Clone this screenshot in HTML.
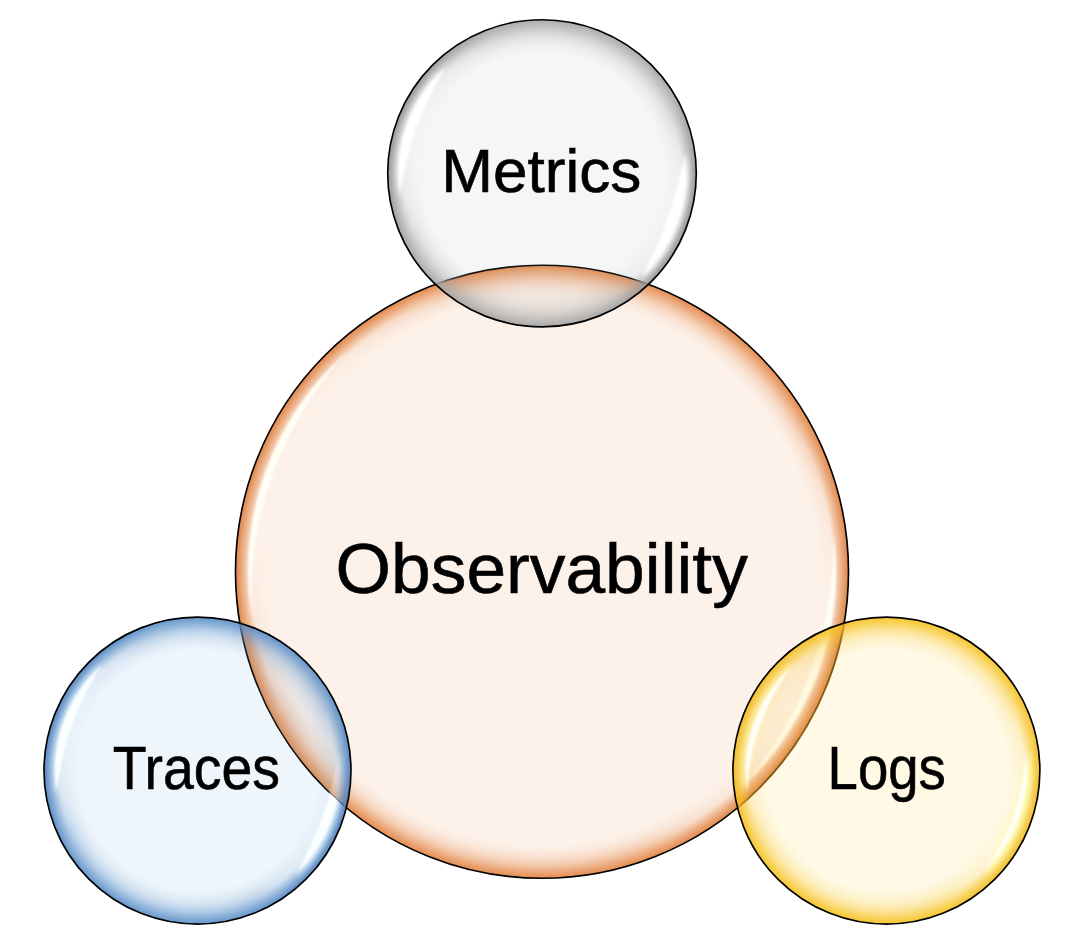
<!DOCTYPE html>
<html lang="en"><head><meta charset="utf-8"><title>Observability</title>
<style>
html,body{margin:0;padding:0;background:#fff;}
body{width:1082px;height:942px;overflow:hidden;}
svg{display:block;}
text{font-family:"Liberation Sans",sans-serif;fill:#000;stroke:#000;stroke-width:0.6px;text-anchor:middle;}
</style></head><body>
<svg width="1082" height="942" viewBox="0 0 1082 942">
<defs>
<filter id="b1" x="-20%" y="-20%" width="140%" height="140%"><feGaussianBlur stdDeviation="0.85"/></filter>
<filter id="b2" x="-20%" y="-20%" width="140%" height="140%"><feGaussianBlur stdDeviation="2.2"/></filter>
<clipPath id="cl-obs"><circle cx="542.00" cy="571.75" r="306.50"/></clipPath>
<mask id="mo-obs" maskUnits="userSpaceOnUse" x="0" y="0" width="1082" height="942"><rect x="0" y="0" width="1082" height="942" fill="#fff"/><circle cx="542.00" cy="571.75" r="306.50" fill="#000"/></mask>
<radialGradient id="gn-obs" gradientUnits="userSpaceOnUse" cx="542.00" cy="571.75" r="307.32"><stop offset="0" stop-color="rgb(222,113,38)" stop-opacity="0"/><stop offset="0.9469" stop-color="rgb(222,113,38)" stop-opacity="0.000"/><stop offset="0.9534" stop-color="rgb(222,113,38)" stop-opacity="0.101"/><stop offset="0.9599" stop-color="rgb(222,113,38)" stop-opacity="0.257"/><stop offset="0.9680" stop-color="rgb(222,113,38)" stop-opacity="0.390"/><stop offset="0.9778" stop-color="rgb(222,113,38)" stop-opacity="0.530"/><stop offset="0.9876" stop-color="rgb(222,113,38)" stop-opacity="0.663"/><stop offset="0.9973" stop-color="rgb(222,113,38)" stop-opacity="0.780"/><stop offset="1" stop-color="rgb(222,113,38)" stop-opacity="0.780"/></radialGradient>
<radialGradient id="gw-obs" gradientUnits="userSpaceOnUse" cx="542.00" cy="571.75" r="307.32"><stop offset="0" stop-color="rgb(222,113,38)" stop-opacity="0"/><stop offset="0.8899" stop-color="rgb(222,113,38)" stop-opacity="0.000"/><stop offset="0.9030" stop-color="rgb(222,113,38)" stop-opacity="0.031"/><stop offset="0.9192" stop-color="rgb(222,113,38)" stop-opacity="0.086"/><stop offset="0.9355" stop-color="rgb(222,113,38)" stop-opacity="0.172"/><stop offset="0.9469" stop-color="rgb(222,113,38)" stop-opacity="0.254"/><stop offset="0.9534" stop-color="rgb(222,113,38)" stop-opacity="0.234"/><stop offset="0.9599" stop-color="rgb(222,113,38)" stop-opacity="0.161"/><stop offset="0.9680" stop-color="rgb(222,113,38)" stop-opacity="0.128"/><stop offset="0.9778" stop-color="rgb(222,113,38)" stop-opacity="0.100"/><stop offset="0.9876" stop-color="rgb(222,113,38)" stop-opacity="0.069"/><stop offset="0.9973" stop-color="rgb(222,113,38)" stop-opacity="0.000"/><stop offset="1" stop-color="rgb(222,113,38)" stop-opacity="0.000"/></radialGradient>
<radialGradient id="gb-obs" gradientUnits="userSpaceOnUse" cx="542.00" cy="571.75" r="307.32"><stop offset="0.9631" stop-color="rgb(170,70,10)" stop-opacity="0"/><stop offset="0.9941" stop-color="rgb(170,70,10)" stop-opacity="0.080"/><stop offset="1" stop-color="rgb(170,70,10)" stop-opacity="0.080"/></radialGradient>
<linearGradient id="lm-obs" gradientUnits="userSpaceOnUse" x1="252.66" y1="468.15" x2="831.34" y2="675.35"><stop offset="0" stop-color="#000"/><stop offset="0.035" stop-color="#000"/><stop offset="0.10" stop-color="#666"/><stop offset="0.19" stop-color="#fff"/><stop offset="0.81" stop-color="#fff"/><stop offset="0.90" stop-color="#666"/><stop offset="0.965" stop-color="#000"/><stop offset="1" stop-color="#000"/></linearGradient>
<linearGradient id="li-obs" gradientUnits="userSpaceOnUse" x1="252.66" y1="468.15" x2="831.34" y2="675.35"><stop offset="0" stop-color="#fff"/><stop offset="0.035" stop-color="#fff"/><stop offset="0.10" stop-color="#999"/><stop offset="0.19" stop-color="#000"/><stop offset="0.81" stop-color="#000"/><stop offset="0.90" stop-color="#999"/><stop offset="0.965" stop-color="#fff"/><stop offset="1" stop-color="#fff"/></linearGradient>
<mask id="m-obs" maskUnits="userSpaceOnUse" x="232.7" y="262.4" width="618.6" height="618.6"><rect x="232.7" y="262.4" width="618.6" height="618.6" fill="url(#lm-obs)"/></mask>
<mask id="mi-obs" maskUnits="userSpaceOnUse" x="232.7" y="262.4" width="618.6" height="618.6"><rect x="232.7" y="262.4" width="618.6" height="618.6" fill="url(#li-obs)"/></mask>
<radialGradient id="gn-tra" gradientUnits="userSpaceOnUse" cx="197.50" cy="770.60" r="154.32"><stop offset="0" stop-color="rgb(88,141,199)" stop-opacity="0"/><stop offset="0.8942" stop-color="rgb(88,141,199)" stop-opacity="0.000"/><stop offset="0.9072" stop-color="rgb(88,141,199)" stop-opacity="0.117"/><stop offset="0.9201" stop-color="rgb(88,141,199)" stop-opacity="0.297"/><stop offset="0.9363" stop-color="rgb(88,141,199)" stop-opacity="0.450"/><stop offset="0.9558" stop-color="rgb(88,141,199)" stop-opacity="0.612"/><stop offset="0.9752" stop-color="rgb(88,141,199)" stop-opacity="0.765"/><stop offset="0.9947" stop-color="rgb(88,141,199)" stop-opacity="0.900"/><stop offset="1" stop-color="rgb(88,141,199)" stop-opacity="0.900"/></radialGradient>
<radialGradient id="gw-tra" gradientUnits="userSpaceOnUse" cx="197.50" cy="770.60" r="154.32"><stop offset="0" stop-color="rgb(88,141,199)" stop-opacity="0"/><stop offset="0.7808" stop-color="rgb(88,141,199)" stop-opacity="0.000"/><stop offset="0.8067" stop-color="rgb(88,141,199)" stop-opacity="0.036"/><stop offset="0.8391" stop-color="rgb(88,141,199)" stop-opacity="0.099"/><stop offset="0.8715" stop-color="rgb(88,141,199)" stop-opacity="0.198"/><stop offset="0.8942" stop-color="rgb(88,141,199)" stop-opacity="0.292"/><stop offset="0.9072" stop-color="rgb(88,141,199)" stop-opacity="0.275"/><stop offset="0.9201" stop-color="rgb(88,141,199)" stop-opacity="0.196"/><stop offset="0.9363" stop-color="rgb(88,141,199)" stop-opacity="0.164"/><stop offset="0.9558" stop-color="rgb(88,141,199)" stop-opacity="0.139"/><stop offset="0.9752" stop-color="rgb(88,141,199)" stop-opacity="0.115"/><stop offset="0.9947" stop-color="rgb(88,141,199)" stop-opacity="0.000"/><stop offset="1" stop-color="rgb(88,141,199)" stop-opacity="0.000"/></radialGradient>
<radialGradient id="gb-tra" gradientUnits="userSpaceOnUse" cx="197.50" cy="770.60" r="154.32"><stop offset="0.9266" stop-color="rgb(30,80,150)" stop-opacity="0"/><stop offset="0.9882" stop-color="rgb(30,80,150)" stop-opacity="0.180"/><stop offset="1" stop-color="rgb(30,80,150)" stop-opacity="0.180"/></radialGradient>
<linearGradient id="lm-tra" gradientUnits="userSpaceOnUse" x1="52.21" y1="718.58" x2="342.79" y2="822.62"><stop offset="0" stop-color="#000"/><stop offset="0.035" stop-color="#000"/><stop offset="0.10" stop-color="#666"/><stop offset="0.19" stop-color="#fff"/><stop offset="0.81" stop-color="#fff"/><stop offset="0.90" stop-color="#666"/><stop offset="0.965" stop-color="#000"/><stop offset="1" stop-color="#000"/></linearGradient>
<linearGradient id="li-tra" gradientUnits="userSpaceOnUse" x1="52.21" y1="718.58" x2="342.79" y2="822.62"><stop offset="0" stop-color="#fff"/><stop offset="0.035" stop-color="#fff"/><stop offset="0.10" stop-color="#999"/><stop offset="0.19" stop-color="#000"/><stop offset="0.81" stop-color="#000"/><stop offset="0.90" stop-color="#999"/><stop offset="0.965" stop-color="#fff"/><stop offset="1" stop-color="#fff"/></linearGradient>
<mask id="m-tra" maskUnits="userSpaceOnUse" x="41.2" y="614.3" width="312.6" height="312.6"><rect x="41.2" y="614.3" width="312.6" height="312.6" fill="url(#lm-tra)"/></mask>
<mask id="mi-tra" maskUnits="userSpaceOnUse" x="41.2" y="614.3" width="312.6" height="312.6"><rect x="41.2" y="614.3" width="312.6" height="312.6" fill="url(#li-tra)"/></mask>
<radialGradient id="gn-met" gradientUnits="userSpaceOnUse" cx="542.00" cy="173.30" r="154.42"><stop offset="0" stop-color="rgb(168,168,168)" stop-opacity="0"/><stop offset="0.8943" stop-color="rgb(168,168,168)" stop-opacity="0.000"/><stop offset="0.9072" stop-color="rgb(168,168,168)" stop-opacity="0.123"/><stop offset="0.9202" stop-color="rgb(168,168,168)" stop-opacity="0.314"/><stop offset="0.9364" stop-color="rgb(168,168,168)" stop-opacity="0.475"/><stop offset="0.9558" stop-color="rgb(168,168,168)" stop-opacity="0.646"/><stop offset="0.9752" stop-color="rgb(168,168,168)" stop-opacity="0.807"/><stop offset="0.9947" stop-color="rgb(168,168,168)" stop-opacity="0.950"/><stop offset="1" stop-color="rgb(168,168,168)" stop-opacity="0.950"/></radialGradient>
<radialGradient id="gw-met" gradientUnits="userSpaceOnUse" cx="542.00" cy="173.30" r="154.42"><stop offset="0" stop-color="rgb(168,168,168)" stop-opacity="0"/><stop offset="0.7810" stop-color="rgb(168,168,168)" stop-opacity="0.000"/><stop offset="0.8069" stop-color="rgb(168,168,168)" stop-opacity="0.038"/><stop offset="0.8392" stop-color="rgb(168,168,168)" stop-opacity="0.105"/><stop offset="0.8716" stop-color="rgb(168,168,168)" stop-opacity="0.209"/><stop offset="0.8943" stop-color="rgb(168,168,168)" stop-opacity="0.309"/><stop offset="0.9072" stop-color="rgb(168,168,168)" stop-opacity="0.293"/><stop offset="0.9202" stop-color="rgb(168,168,168)" stop-opacity="0.212"/><stop offset="0.9364" stop-color="rgb(168,168,168)" stop-opacity="0.181"/><stop offset="0.9558" stop-color="rgb(168,168,168)" stop-opacity="0.161"/><stop offset="0.9752" stop-color="rgb(168,168,168)" stop-opacity="0.148"/><stop offset="0.9947" stop-color="rgb(168,168,168)" stop-opacity="0.000"/><stop offset="1" stop-color="rgb(168,168,168)" stop-opacity="0.000"/></radialGradient>
<radialGradient id="gb-met" gradientUnits="userSpaceOnUse" cx="542.00" cy="173.30" r="154.42"><stop offset="0.9267" stop-color="rgb(70,70,70)" stop-opacity="0"/><stop offset="0.9882" stop-color="rgb(70,70,70)" stop-opacity="0.160"/><stop offset="1" stop-color="rgb(70,70,70)" stop-opacity="0.160"/></radialGradient>
<linearGradient id="lm-met" gradientUnits="userSpaceOnUse" x1="396.61" y1="121.24" x2="687.39" y2="225.36"><stop offset="0" stop-color="#000"/><stop offset="0.035" stop-color="#000"/><stop offset="0.10" stop-color="#666"/><stop offset="0.19" stop-color="#fff"/><stop offset="0.81" stop-color="#fff"/><stop offset="0.90" stop-color="#666"/><stop offset="0.965" stop-color="#000"/><stop offset="1" stop-color="#000"/></linearGradient>
<linearGradient id="li-met" gradientUnits="userSpaceOnUse" x1="396.61" y1="121.24" x2="687.39" y2="225.36"><stop offset="0" stop-color="#fff"/><stop offset="0.035" stop-color="#fff"/><stop offset="0.10" stop-color="#999"/><stop offset="0.19" stop-color="#000"/><stop offset="0.81" stop-color="#000"/><stop offset="0.90" stop-color="#999"/><stop offset="0.965" stop-color="#fff"/><stop offset="1" stop-color="#fff"/></linearGradient>
<mask id="m-met" maskUnits="userSpaceOnUse" x="385.6" y="16.9" width="312.8" height="312.8"><rect x="385.6" y="16.9" width="312.8" height="312.8" fill="url(#lm-met)"/></mask>
<mask id="mi-met" maskUnits="userSpaceOnUse" x="385.6" y="16.9" width="312.8" height="312.8"><rect x="385.6" y="16.9" width="312.8" height="312.8" fill="url(#li-met)"/></mask>
<radialGradient id="gn-log" gradientUnits="userSpaceOnUse" cx="886.40" cy="770.60" r="154.32"><stop offset="0" stop-color="rgb(246,193,27)" stop-opacity="0"/><stop offset="0.8942" stop-color="rgb(246,193,27)" stop-opacity="0.000"/><stop offset="0.9072" stop-color="rgb(246,193,27)" stop-opacity="0.117"/><stop offset="0.9201" stop-color="rgb(246,193,27)" stop-opacity="0.297"/><stop offset="0.9363" stop-color="rgb(246,193,27)" stop-opacity="0.450"/><stop offset="0.9558" stop-color="rgb(246,193,27)" stop-opacity="0.612"/><stop offset="0.9752" stop-color="rgb(246,193,27)" stop-opacity="0.765"/><stop offset="0.9947" stop-color="rgb(246,193,27)" stop-opacity="0.900"/><stop offset="1" stop-color="rgb(246,193,27)" stop-opacity="0.900"/></radialGradient>
<radialGradient id="gw-log" gradientUnits="userSpaceOnUse" cx="886.40" cy="770.60" r="154.32"><stop offset="0" stop-color="rgb(246,193,27)" stop-opacity="0"/><stop offset="0.7808" stop-color="rgb(246,193,27)" stop-opacity="0.000"/><stop offset="0.8067" stop-color="rgb(246,193,27)" stop-opacity="0.036"/><stop offset="0.8391" stop-color="rgb(246,193,27)" stop-opacity="0.099"/><stop offset="0.8715" stop-color="rgb(246,193,27)" stop-opacity="0.198"/><stop offset="0.8942" stop-color="rgb(246,193,27)" stop-opacity="0.292"/><stop offset="0.9072" stop-color="rgb(246,193,27)" stop-opacity="0.275"/><stop offset="0.9201" stop-color="rgb(246,193,27)" stop-opacity="0.196"/><stop offset="0.9363" stop-color="rgb(246,193,27)" stop-opacity="0.164"/><stop offset="0.9558" stop-color="rgb(246,193,27)" stop-opacity="0.139"/><stop offset="0.9752" stop-color="rgb(246,193,27)" stop-opacity="0.115"/><stop offset="0.9947" stop-color="rgb(246,193,27)" stop-opacity="0.000"/><stop offset="1" stop-color="rgb(246,193,27)" stop-opacity="0.000"/></radialGradient>
<radialGradient id="gb-log" gradientUnits="userSpaceOnUse" cx="886.40" cy="770.60" r="154.32"><stop offset="0.9266" stop-color="rgb(200,130,0)" stop-opacity="0"/><stop offset="0.9882" stop-color="rgb(200,130,0)" stop-opacity="0.080"/><stop offset="1" stop-color="rgb(200,130,0)" stop-opacity="0.080"/></radialGradient>
<linearGradient id="lm-log" gradientUnits="userSpaceOnUse" x1="741.11" y1="718.58" x2="1031.69" y2="822.62"><stop offset="0" stop-color="#000"/><stop offset="0.035" stop-color="#000"/><stop offset="0.10" stop-color="#666"/><stop offset="0.19" stop-color="#fff"/><stop offset="0.81" stop-color="#fff"/><stop offset="0.90" stop-color="#666"/><stop offset="0.965" stop-color="#000"/><stop offset="1" stop-color="#000"/></linearGradient>
<linearGradient id="li-log" gradientUnits="userSpaceOnUse" x1="741.11" y1="718.58" x2="1031.69" y2="822.62"><stop offset="0" stop-color="#fff"/><stop offset="0.035" stop-color="#fff"/><stop offset="0.10" stop-color="#999"/><stop offset="0.19" stop-color="#000"/><stop offset="0.81" stop-color="#000"/><stop offset="0.90" stop-color="#999"/><stop offset="0.965" stop-color="#fff"/><stop offset="1" stop-color="#fff"/></linearGradient>
<mask id="m-log" maskUnits="userSpaceOnUse" x="730.1" y="614.3" width="312.6" height="312.6"><rect x="730.1" y="614.3" width="312.6" height="312.6" fill="url(#lm-log)"/></mask>
<mask id="mi-log" maskUnits="userSpaceOnUse" x="730.1" y="614.3" width="312.6" height="312.6"><rect x="730.1" y="614.3" width="312.6" height="312.6" fill="url(#li-log)"/></mask>
<clipPath id="cl-log"><circle cx="886.40" cy="770.60" r="153.50"/></clipPath>
</defs>
<g class="c">
<g id="obs">
<circle cx="542.00" cy="571.75" r="306.50" fill="rgb(237,125,49)" fill-opacity="0.1"/>
<circle cx="542.00" cy="571.75" r="306.50" fill="url(#gw-obs)" mask="url(#m-obs)"/>
<circle cx="542.00" cy="571.75" r="306.50" fill="url(#gn-obs)"/>
<circle cx="542.00" cy="571.75" r="306.50" fill="url(#gb-obs)" mask="url(#mi-obs)"/>
<path d="M251.82 617.71 A293.80 293.80 0 0 1 345.41 353.41 A360.16 360.16 0 0 0 251.82 617.71 Z" fill="rgb(255,255,246)" filter="url(#b1)"/>
<path d="M833.29 533.40 A293.80 293.80 0 0 1 744.24 784.86 A370.78 370.78 0 0 0 833.29 533.40 Z" fill="rgb(255,255,246)" filter="url(#b1)"/>
<circle cx="542.00" cy="571.75" r="306.50" fill="none" stroke="#000" stroke-width="1.65"/>
</g>
<g id="tra">
<circle cx="197.50" cy="770.60" r="153.50" fill="rgb(91,155,213)" fill-opacity="0.1"/>
<circle cx="197.50" cy="770.60" r="153.50" fill="url(#gw-tra)" mask="url(#m-tra)"/>
<circle cx="197.50" cy="770.60" r="153.50" fill="url(#gn-tra)"/>
<circle cx="197.50" cy="770.60" r="153.50" fill="url(#gb-tra)" mask="url(#mi-tra)"/>
<path d="M53.72 795.95 A146.00 146.00 0 0 1 101.72 660.41 A376.49 376.49 0 0 0 53.72 795.95 Z" fill="rgb(215,240,255)" fill-opacity="0.44" filter="url(#b2)"/>
<path d="M56.56 792.92 A142.70 142.70 0 0 1 102.02 664.55 A301.37 301.37 0 0 0 56.56 792.92 Z" fill="rgb(252,255,255)" filter="url(#b1)"/>
<g mask="url(#mo-obs)"><path d="M341.90 749.02 A146.00 146.00 0 0 1 296.14 878.24 A464.08 464.08 0 0 0 341.90 749.02 Z" fill="rgb(215,240,255)" fill-opacity="0.80" filter="url(#b2)"/><path d="M338.98 751.97 A142.70 142.70 0 0 1 295.73 874.11 A349.70 349.70 0 0 0 338.98 751.97 Z" fill="rgb(252,255,255)" filter="url(#b1)"/></g>
<g clip-path="url(#cl-obs)" opacity="0.3"><path d="M341.90 749.02 A146.00 146.00 0 0 1 296.14 878.24 A464.08 464.08 0 0 0 341.90 749.02 Z" fill="rgb(215,240,255)" fill-opacity="0.80" filter="url(#b2)"/><path d="M338.98 751.97 A142.70 142.70 0 0 1 295.73 874.11 A349.70 349.70 0 0 0 338.98 751.97 Z" fill="rgb(252,255,255)" filter="url(#b1)"/></g>
<circle cx="197.50" cy="770.60" r="153.50" fill="none" stroke="#000" stroke-width="1.65"/>
</g>
<g id="met" transform="translate(542.00 0) scale(1.0046 1) translate(-542.00 0)">
<circle cx="542.00" cy="173.30" r="153.60" fill="rgb(165,165,165)" fill-opacity="0.1"/>
<circle cx="542.00" cy="173.30" r="153.60" fill="url(#gw-met)" mask="url(#m-met)"/>
<circle cx="542.00" cy="173.30" r="153.60" fill="url(#gn-met)"/>
<circle cx="542.00" cy="173.30" r="153.60" fill="url(#gb-met)" mask="url(#mi-met)"/>
<path d="M398.12 198.67 A146.10 146.10 0 0 1 446.15 63.04 A376.31 376.31 0 0 0 398.12 198.67 Z" fill="rgb(255,255,255)" fill-opacity="0.41" filter="url(#b2)"/>
<path d="M400.76 195.67 A143.00 143.00 0 0 1 446.31 67.03 A305.05 305.05 0 0 0 400.76 195.67 Z" fill="rgb(255,255,255)" filter="url(#b1)"/>
<path d="M686.50 151.71 A146.10 146.10 0 0 1 640.70 281.02 A463.66 463.66 0 0 0 686.50 151.71 Z" fill="rgb(255,255,255)" fill-opacity="0.75" filter="url(#b2)"/>
<path d="M683.78 154.63 A143.00 143.00 0 0 1 640.43 277.03 A355.03 355.03 0 0 0 683.78 154.63 Z" fill="rgb(255,255,255)" filter="url(#b1)"/>
<circle cx="542.00" cy="173.30" r="153.60" fill="none" stroke="#000" stroke-width="1.65"/>
</g>
<g id="log">
<circle cx="886.40" cy="770.60" r="153.50" fill="rgb(255,192,0)" fill-opacity="0.1"/>
<circle cx="886.40" cy="770.60" r="153.50" fill="url(#gw-log)" mask="url(#m-log)"/>
<circle cx="886.40" cy="770.60" r="153.50" fill="url(#gn-log)"/>
<circle cx="886.40" cy="770.60" r="153.50" fill="url(#gb-log)" mask="url(#mi-log)"/>
<circle cx="542.00" cy="571.75" r="306.50" fill="none" stroke="rgb(215,150,50)" stroke-opacity="0.5" stroke-width="2.45" clip-path="url(#cl-log)"/>
<path d="M743.60 795.78 A145.00 145.00 0 0 1 791.27 661.17 A378.35 378.35 0 0 0 743.60 795.78 Z" fill="rgb(255,252,165)" fill-opacity="0.47" filter="url(#b2)"/>
<path d="M747.43 792.61 A140.70 140.70 0 0 1 792.25 666.04 A209.47 209.47 0 0 0 747.43 792.61 Z" fill="rgb(255,255,250)" filter="url(#b1)"/>
<path d="M1029.81 749.17 A145.00 145.00 0 0 1 984.36 877.51 A468.44 468.44 0 0 0 1029.81 749.17 Z" fill="rgb(255,252,165)" fill-opacity="0.85" filter="url(#b2)"/>
<path d="M1025.90 752.23 A140.70 140.70 0 0 1 983.25 872.66 A223.20 223.20 0 0 0 1025.90 752.23 Z" fill="rgb(255,255,250)" filter="url(#b1)"/>
<circle cx="886.40" cy="770.60" r="153.50" fill="none" stroke="#000" stroke-width="1.65"/>
</g>
</g>
<g class="labels">
<text x="541.70" y="592.80" font-size="71.20" textLength="412.2" lengthAdjust="spacingAndGlyphs">Observability</text>
<text x="196.40" y="788.60" font-size="61.80" textLength="167.2" lengthAdjust="spacingAndGlyphs">Traces</text>
<text x="541.30" y="192.00" font-size="61.80" textLength="200.3" lengthAdjust="spacingAndGlyphs">Metrics</text>
<text x="886.70" y="788.60" font-size="61.80" textLength="118.3" lengthAdjust="spacingAndGlyphs">Logs</text>
</g>
</svg>
</body></html>
